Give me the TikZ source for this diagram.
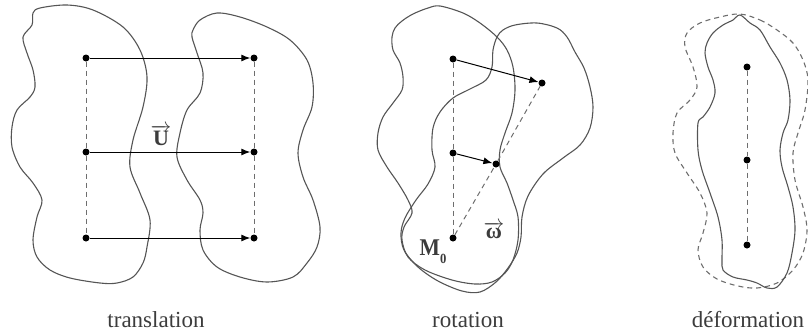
\documentclass[tikz,border=0pt]{standalone}
\usepackage{fontspec}
\setmainfont{Liberation Serif}
\usepackage{tikz}
\usetikzlibrary{arrows.meta, positioning, calc}
\definecolor{outline}{RGB}{85, 85, 85}
\definecolor{guidegray}{RGB}{110, 110, 110}
\definecolor{captiongray}{RGB}{60, 60, 60}

\begin{document}
\begin{tikzpicture}[
    x=1pt, y=-1pt,
    dotnode/.style={circle, fill=black, inner sep=0pt, minimum size=7pt},
    blob/.style={draw=outline, line width=1.1pt},
    shadow/.style={draw=guidegray, line width=1.1pt, dash pattern=on 5pt off 4pt},
    guide/.style={draw=guidegray, line width=1pt, dash pattern=on 5pt off 4pt},
    move/.style={-{Latex[length=9pt, width=7pt]}, line width=1pt, black},
    caption/.style={font=\fontsize{23}{26}\selectfont, text=captiongray, anchor=base},
    vecname/.style={font=\fontsize{22}{25}\selectfont\bfseries, text=captiongray}
]
    \useasboundingbox (0,0) rectangle (808,335);

    % translation
    \draw [blob] plot [smooth cycle, tension=0.55] coordinates {
        (33,13) (40,8) (67,5) (93,10) (123,27) (140,50) (147,77) (143,107)
        (133,140) (130,167) (140,193) (150,220) (147,247) (143,263) (133,277)
        (117,283) (100,283) (70,278) (50,270) (37,257) (33,240) (37,217)
        (42,200) (33,183) (20,167) (12,147) (12,127) (17,110) (30,97)
        (35,87) (33,70) (27,53) (23,37) (32,25)};
    \draw [blob] plot [smooth cycle, tension=0.55] coordinates {
        (200,20) (217,13) (240,17) (267,27) (290,40) (307,60) (313,83) (312,107)
        (303,130) (298,153) (303,177) (313,200) (320,227) (317,247) (307,263)
        (293,277) (267,282) (240,277) (217,267) (203,250) (200,230) (203,213)
        (200,200) (187,180) (177,157) (180,133) (187,110) (200,93) (203,73)
        (197,53) (192,37) (193,30)};

    \node [dotnode] (a1) at (86,58) {};
    \node [dotnode] (a2) at (86,152) {};
    \node [dotnode] (a3) at (86,238) {};
    \node [dotnode] (b1) at (254,58) {};
    \node [dotnode] (b2) at (254,152) {};
    \node [dotnode] (b3) at (254,238) {};

    \draw [guide] (a1) -- (a2) -- (a3);
    \draw [guide] (b1) -- (b2) -- (b3);
    \draw [move] (a1) -- (b1);
    \draw [move] (a2) -- (b2);
    \draw [move] (a3) -- (b3);

    \node [vecname] (u) at (161,135) {$\overrightarrow{\mbox{\bfseries U}}$};
    \node [caption] (tcap) at (156,327) {translation};

    % rotation
    \draw [blob] plot [smooth cycle, tension=0.55] coordinates {
        (440,6) (463,13) (480,23) (497,37) (507,50) (513,67) (515,90) (512,113)
        (505,133) (500,150) (500,167) (507,183) (513,200) (518,217) (518,240)
        (513,260) (505,273) (492,282) (475,284) (452,280) (425,270) (408,257)
        (402,240) (404,227) (412,213) (408,200) (398,183) (387,167) (378,150)
        (378,133) (383,117) (393,103) (402,90) (403,77) (400,63) (393,50)
        (392,37) (395,28) (402,21) (413,14) (428,8)};
    \draw [blob] plot [smooth cycle, tension=0.55] coordinates {
        (497,37) (503,30) (515,25) (537,23) (557,28) (567,37) (575,52) (584,68)
        (590,87) (593,107) (590,128) (580,145) (563,158) (543,174) (528,196)
        (522,217) (521,237) (517,253) (508,268) (496,282) (480,292) (462,291)
        (438,281) (418,267) (404,250) (401,233) (405,218) (416,200) (428,184)
        (435,167) (432,150) (433,128) (440,112) (453,98) (470,89) (486,80)
        (492,67) (493,50)};

    \node [dotnode] (p1) at (453,59) {};
    \node [dotnode] (p2) at (453,153) {};
    \node [dotnode] (m0) at (453,238) {};
    \node [dotnode] (q1) at (542,83) {};
    \node [dotnode] (q2) at (496,164) {};

    \draw [guide] (p1) -- (p2) -- (m0);
    \draw [guide] (m0) -- (q2) -- (q1);
    \draw [move] (p1) -- (q1);
    \draw [move] (p2) -- (q2);

    \node [vecname, font=\fontsize{24}{26}\selectfont\bfseries, xscale=0.9] (mlabel) at (433,252)
        {M\raisebox{-8pt}{\fontsize{14}{15}\selectfont 0}};
    \node [vecname] (omega) at (494,230) {$\overrightarrow{\mbox{\bfseries ω}}$};
    \node [caption] (rcap) at (468,327) {rotation};

    % deformation
    \draw [shadow] plot [smooth cycle, tension=0.55] coordinates {
        (740,14) (760,20) (777,30) (793,43) (803,60) (808,80) (805,110)
        (798,133) (793,153) (795,180) (803,207) (807,230) (803,253) (793,270)
        (777,283) (757,288) (738,286) (717,279) (703,267) (698,250) (703,233)
        (707,213) (700,193) (687,173) (675,153) (673,133) (677,113) (690,100)
        (697,87) (693,67) (685,47) (687,33) (700,23) (720,17)};
    \draw [blob] plot [smooth cycle, tension=0.55] coordinates {
        (740,15) (750,23) (760,30) (770,47) (780,63) (787,80) (790,100) (788,120)
        (783,133) (780,150) (782,167) (788,187) (793,207) (795,230) (792,253)
        (787,273) (777,287) (767,288) (757,283) (747,280) (733,277) (723,270)
        (722,260) (722,240) (718,217) (710,193) (702,170) (698,150) (698,123)
        (703,117) (710,107) (715,93) (713,80) (708,67) (705,53) (707,43)
        (713,33) (723,25) (733,20)};

    \node [dotnode] (d1) at (747,67) {};
    \node [dotnode] (d2) at (747,160) {};
    \node [dotnode] (d3) at (747,245) {};

    \draw [guide] (d1) -- (d2) -- (d3);

    \node [caption] (dcap) at (748,327) {déformation};
\end{tikzpicture}
\end{document}
